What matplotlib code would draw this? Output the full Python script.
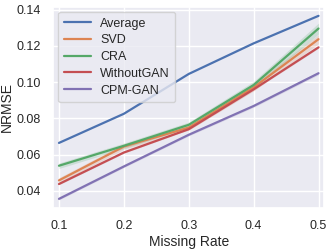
import matplotlib
matplotlib.use("Agg")
import matplotlib.pyplot as plt
import seaborn as sns
import numpy as np

sns.set_theme(style="darkgrid")
plt.rcParams['font.family'] = ['Liberation Sans', 'DejaVu Sans']

missing_rate = [0.1, 0.2, 0.3, 0.4, 0.5]
series_names = ["Average", "SVD", "CRA", "WithoutGAN", "CPM-GAN"]
average = [0.0664, 0.0825, 0.1045, 0.1214, 0.1366]
svd = [0.0457, 0.0644, 0.0749, 0.0971, 0.1237]
cra = [0.0538, 0.0648, 0.0764, 0.0984, 0.1296]
without_gan = [0.0437, 0.0611, 0.0740, 0.0960, 0.1192]
cpm_gan = [0.0355, 0.0534, 0.0709, 0.0868, 0.1049]
# half-width of confidence bands
average_err = [0.0, 0.0, 0.0, 0.0, 0.0]
svd_err = [0.0015, 0.0015, 0.0015, 0.0020, 0.0025]
cra_err = [0.0015, 0.0015, 0.0015, 0.0020, 0.0030]
without_gan_err = [0.0004, 0.0004, 0.0004, 0.0005, 0.0005]
cpm_gan_err = [0.0006, 0.0006, 0.0006, 0.0007, 0.0008]

values = [average, svd, cra, without_gan, cpm_gan]
errs = [average_err, svd_err, cra_err, without_gan_err, cpm_gan_err]
colors = sns.color_palette("deep")[:5]

fig, ax = plt.subplots(figsize=(3.32, 2.49), dpi=100)
for name, v, e, c in zip(series_names, values, errs, colors):
    v = np.array(v); e = np.array(e)
    ax.plot(missing_rate, v, color=c, lw=1.6, label=name)
    if e.max() > 0:
        ax.fill_between(missing_rate, v - e, v + e, color=c, alpha=0.2, lw=0)

ax.set_xlim(0.091, 0.509)
ax.set_ylim(0.0305, 0.1415)
ax.set_xticks(missing_rate)
ax.set_yticks([0.04, 0.06, 0.08, 0.10, 0.12, 0.14])
ax.set_yticklabels(["0.04", "0.06", "0.08", "0.10", "0.12", "0.14"])
ax.tick_params(labelsize=9, pad=3)
ax.set_xlabel("Missing Rate", fontsize=10, labelpad=2)
ax.set_ylabel("NRMSE", fontsize=10, labelpad=2)
ax.legend(loc="upper left", fontsize=9, handlelength=2.2, handletextpad=0.7,
          borderpad=0.45, labelspacing=0.38, borderaxespad=0.4)
fig.subplots_adjust(left=0.16, right=0.977, top=0.972, bottom=0.165)
fig.savefig("out.png", dpi=100)
